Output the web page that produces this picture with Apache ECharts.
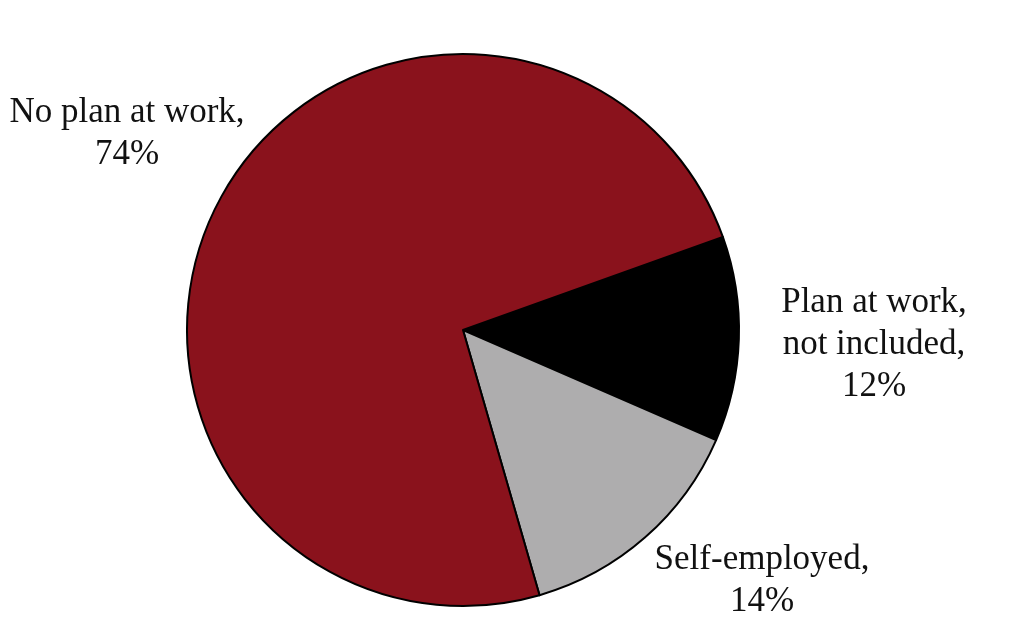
<!DOCTYPE html>
<html>
<head>
<meta charset="utf-8">
<script src="https://cdn.jsdelivr.net/npm/echarts@6/dist/echarts.min.js"></script>
<style>html,body{margin:0;padding:0;background:#fff}#c{width:1024px;height:620px}</style>
</head>
<body>
<div id="c"></div>
<script>
var categories = ['Plan at work,\nnot included', 'Self-employed', 'No plan at work'];
var values = [12, 14, 74];
var colors = ['#000000', '#aeadae', '#8a121c'];

// label anchor points (block centres) per slice
var labelPos = [[874, 345], [762, 581], [127, 134]];

var chart = echarts.init(document.getElementById('c'));
chart.setOption({
  animation: false,
  backgroundColor: '#ffffff',
  series: [{
    type: 'pie',
    center: [463, 330],
    radius: [0, 276],
    startAngle: 19.7,
    clockwise: true,
    data: categories.map(function (c, i) {
      return { name: c, value: values[i], itemStyle: { color: colors[i] } };
    }),
    itemStyle: { borderColor: '#000', borderWidth: 2 },
    label: {
      show: true,
      position: 'outside',
      overflow: 'none',
      formatter: function (p) { return p.name + ',\n' + p.value + '%'; },
      fontFamily: 'Liberation Serif',
      fontSize: 35,
      lineHeight: 42,
      color: '#111',
      align: 'center'
    },
    labelLine: { show: false },
    labelLayout: function (p) {
      var pos = labelPos[p.dataIndex];
      return { x: pos[0], y: pos[1], align: 'center', verticalAlign: 'middle' };
    },
    emphasis: { disabled: true }
  }]
});
</script>
</body>
</html>
